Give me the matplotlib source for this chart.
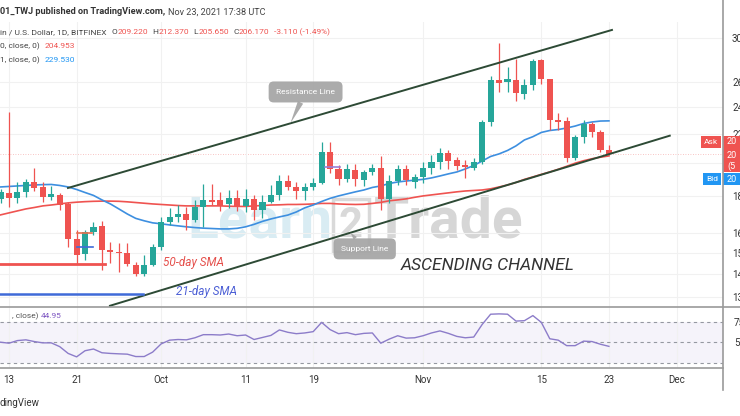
import numpy as np
import matplotlib.pyplot as plt
from matplotlib.lines import Line2D
from matplotlib.patches import Rectangle

plt.rcParams['font.family'] = ['Roboto', 'DejaVu Sans']

W, H = 740, 416

# ---- data ----
days = np.arange(-1, 72)          # 0 = Sep 13 2021, 71 = Nov 23 2021
opens = np.array([178.2, 182.0, 178.8, 182.3, 188.6, 185.2, 179.7, 180.7, 175.5, 156.6,
                  149.3, 160.5, 163.6, 151.3, 150.3, 150.0, 144.1, 140.0, 144.1, 152.6,
                  165.4, 168.1, 169.9, 166.7, 173.6, 177.8, 177.8, 175.3, 179.1, 174.4,
                  178.2, 172.1, 176.8, 180.7, 189.2, 185.6, 183.2, 185.2, 188.0, 207.4,
                  196.3, 190.1, 195.9, 189.7, 194.8, 197.0, 178.2, 189.2, 196.3, 188.6,
                  191.7, 197.3, 200.8, 206.8, 202.3, 199.1, 197.3, 201.2, 228.5, 261.9,
                  260.5, 261.9, 250.4, 257.8, 279.4, 262.5, 230.2, 229.7, 203.4, 217.7,
                  227.0, 221.2, 209.22])
highs = np.array([184.0, 236.4, 188.6, 190.3, 197.0, 188.6, 186.0, 181.9, 176.5, 161.4,
                  161.4, 165.6, 166.3, 155.4, 154.7, 154.7, 145.5, 148.9, 154.2, 168.5,
                  173.2, 174.9, 174.0, 177.8, 187.2, 187.2, 182.6, 183.6, 183.6, 184.0,
                  180.4, 180.7, 186.6, 192.5, 192.5, 188.3, 187.7, 191.1, 214.6, 214.6,
                  199.0, 199.5, 199.5, 196.0, 199.5, 204.9, 192.5, 199.1, 199.1, 193.5,
                  200.8, 205.6, 210.5, 208.9, 204.2, 202.3, 203.4, 230.2, 265.3, 295.5,
                  273.4, 280.1, 263.0, 280.0, 280.1, 263.0, 235.5, 232.4, 219.3, 230.2,
                  228.7, 222.9, 212.37])
lows = np.array([176.0, 174.0, 176.1, 179.7, 183.2, 176.8, 177.8, 172.1, 152.9, 144.6,
                 146.5, 159.0, 141.8, 145.2, 140.9, 143.6, 139.1, 139.1, 143.6, 151.3,
                 164.0, 165.6, 161.4, 165.6, 163.1, 175.0, 171.5, 173.0, 171.3, 170.9,
                 166.7, 167.5, 176.1, 177.8, 183.6, 178.5, 177.8, 183.6, 187.2, 194.0,
                 186.6, 188.3, 186.0, 186.0, 192.5, 172.1, 176.1, 186.6, 186.6, 185.0,
                 188.0, 193.5, 196.3, 196.3, 195.9, 190.9, 195.9, 199.8, 226.0, 252.2,
                 252.2, 245.0, 246.0, 254.0, 258.5, 222.9, 222.9, 201.2, 202.3, 214.0,
                 218.1, 207.7, 205.65])
closes = np.array([182.6, 178.8, 182.3, 188.6, 184.6, 179.3, 181.3, 174.9, 156.6, 148.9,
                   160.5, 163.1, 151.3, 150.2, 149.8, 144.6, 140.0, 144.1, 152.6, 165.8,
                   168.5, 169.9, 166.7, 174.0, 177.8, 176.8, 174.5, 179.1, 174.4, 178.5,
                   172.1, 176.8, 180.7, 189.2, 185.2, 183.2, 185.2, 188.0, 207.4, 196.3,
                   190.1, 196.3, 190.1, 194.8, 197.0, 178.2, 189.2, 196.3, 189.7, 191.7,
                   197.3, 200.8, 206.8, 201.8, 198.4, 197.6, 201.2, 228.5, 261.9, 259.7,
                   262.5, 250.9, 257.8, 278.8, 262.5, 230.2, 228.9, 203.4, 218.1, 227.0,
                   221.7, 208.9, 206.17])
sma21 = np.array([185.4, 185.7, 186.0, 186.3, 186.6, 186.8, 186.9, 186.3, 185.4, 183.9,
                  182.1, 180.4, 177.8, 175.5, 172.7, 169.9, 167.5, 166.2, 165.1, 164.6,
                  164.0, 163.5, 163.0, 162.6, 162.3, 162.1, 161.9, 161.9, 162.2, 163.0,
                  164.3, 165.9, 167.2, 168.3, 169.3, 171.0, 173.3, 174.9, 176.9, 178.7,
                  180.1, 181.3, 182.5, 183.6, 185.1, 186.0, 187.5, 188.4, 189.0, 189.5,
                  190.0, 190.9, 192.1, 193.4, 194.6, 196.5, 198.7, 201.6, 204.6, 206.3,
                  208.6, 211.7, 215.8, 218.1, 221.1, 222.5, 223.2, 224.3, 225.7, 227.6,
                  228.7, 229.4, 229.53])
sma50 = np.array([169.4, 170.5, 171.6, 172.7, 173.5, 174.4, 174.9, 175.5, 176.1, 176.5,
                  176.8, 177.0, 177.1, 177.1, 177.0, 176.7, 176.3, 175.9, 175.5, 175.2,
                  174.9, 174.6, 174.4, 174.4, 174.4, 174.4, 174.4, 174.2, 174.1, 174.1,
                  174.4, 174.6, 174.9, 175.0, 175.2, 175.2, 175.3, 175.5, 175.8, 175.8,
                  175.5, 175.3, 175.2, 175.3, 175.8, 176.4, 177.3, 177.8, 178.4, 179.3,
                  180.1, 180.7, 181.3, 181.9, 182.5, 183.0, 183.3, 183.6, 184.3, 185.4,
                  186.6, 188.1, 190.0, 191.5, 193.1, 194.6, 196.3, 198.2, 200.2, 201.8,
                  203.1, 204.1, 204.95])
rsi = np.array([50.0, 48.8, 52.0, 52.9, 50.8, 49.2, 49.2, 44.6, 36.3, 32.1,
                39.6, 41.7, 37.1, 36.3, 35.8, 35.4, 32.5, 32.5, 37.9, 47.9,
                52.5, 53.3, 52.9, 55.4, 59.2, 59.2, 58.8, 60.0, 57.9, 58.8,
                53.3, 55.8, 58.3, 65.0, 62.1, 60.4, 61.3, 62.9, 74.2, 65.4,
                60.4, 61.7, 59.2, 60.8, 61.3, 48.8, 53.8, 57.9, 55.0, 55.4,
                57.9, 61.3, 63.8, 60.8, 57.1, 55.4, 56.3, 71.7, 84.2, 84.6,
                84.2, 75.8, 76.3, 82.5, 74.2, 54.2, 52.5, 45.8, 45.8, 51.3,
                50.8, 47.5, 44.95])

tick_days = [0, 8, 18, 28, 36, 49, 63, 71, 79]
tick_labels = ['13', '21', 'Oct', '11', '19', 'Nov', '15', '23', 'Dec']
price_ticks = [130, 140, 150, 160, 180, 200, 220, 240, 260, 300]

# channel lines (start / end)
res_d, res_p = [6.98, 71.36], [184.8, 307.9]
sup_d, sup_p = [11.95, 78.2], [126.3, 218.8]

GREEN, RED = '#26a69a', '#ef5350'
BLUE = '#2196f3'
XLIM = (-1.065, 84.5)


def fp(x, y):
    return x / W, 1 - y / H


def on_line(d, line_d, line_p):
    return float(np.exp(np.interp(d, line_d, np.log(line_p))))


fig = plt.figure(figsize=(W / 100, H / 100), dpi=100)
ax = fig.add_axes([0, 1 - 307 / H, 723 / W, 285 / H])
rax = fig.add_axes([0, 1 - 368 / H, 723 / W, 61 / H])

# ---- main pane ----
ax.set_yscale('log')
ax.set_xlim(*XLIM)
ax.set_ylim(125.8, 315.9)
ax.set_xticks(tick_days)
ax.set_yticks(price_ticks, labels=[f'{v:.3f}' for v in price_ticks])
ax.minorticks_off()
ax.yaxis.tick_right()
ax.tick_params(axis='y', length=0, pad=6.5, labelsize=7, labelcolor='#333333')
ax.tick_params(axis='x', length=0, labelbottom=False)
ax.grid(True, color='#f1f1f1', lw=0.8)
for s in ax.spines.values():
    s.set_visible(False)

# watermark
ax.text(187 / 723, 0.245, 'Learn', transform=ax.transAxes, fontsize=41, fontweight='bold',
        color='#d9ecf3', va='baseline', zorder=0)
ax.text(351 / 723, 0.245, '2', transform=ax.transAxes, fontsize=30, fontweight='bold',
        color='#d9d9d9', va='baseline', ha='center', zorder=0,
        bbox=dict(boxstyle='square,pad=0.15', fc='none', ec='#d9d9d9', lw=2.5))
ax.text(374 / 723, 0.245, 'Trade', transform=ax.transAxes, fontsize=41, fontweight='bold',
        color='#d6d6d6', va='baseline', zorder=0)

# moving averages
ax.plot(days, sma50, color='#ef5350', lw=1.2, zorder=2)
ax.plot(days, sma21, color='#3d8fe0', lw=1.2, zorder=2)

# candles
up = closes >= opens
cols = np.where(up, GREEN, RED)
ax.vlines(days, lows, highs, colors=cols, lw=0.9, zorder=3)
ax.bar(days, np.maximum(np.abs(closes - opens), 0.4), bottom=np.minimum(opens, closes),
       width=0.72, color=cols, zorder=4)

# last price line
ax.axhline(closes[-1], color='#ef5350', lw=0.6, alpha=0.45, ls=(0, (1, 2)), zorder=1)

# channel
ax.plot(res_d, res_p, color='#2d4a35', lw=1.4, zorder=5)
ax.plot(sup_d, sup_p, color='#2d4a35', lw=1.4, zorder=5)

# hand drawn marks
ax.plot([XLIM[0], 11.4], [144.6, 144.6], color='#ef5350', lw=2, zorder=5)
ax.plot([XLIM[0], 15.9], [131.2, 131.2], color='#3f6ad8', lw=1.8, zorder=5)
ax.plot([8.0, 9.8], [160.0, 160.0], color='#e8704f', lw=1.2, zorder=5)
ax.plot([8.0, 10.0], [152.9, 152.9], color='#3f6ad8', lw=1.2, zorder=5)
ax.plot([37.4, 39.2], [198.0, 198.0], color='#9a7fd6', lw=1.2, zorder=5)

ax.text(18.2, 145.1, '50-day SMA', color='#e5504c', fontsize=8.5, style='italic',
        va='center', zorder=6)
ax.text(19.8, 132.1, '21-day SMA', color='#4c5fd5', fontsize=8.5, style='italic',
        va='center', zorder=6)
ax.text(46.3, 143.7, 'ASCENDING CHANNEL', color='#333333', fontsize=12.5, style='italic',
        va='center', zorder=6)

callout = dict(fc='#a4a4a4', ec='none', alpha=0.92)
ax.annotate('Resistance Line', xy=(33.3, on_line(33.3, res_d, res_p)), xytext=(35.1, 252.0),
            ha='center', va='center', fontsize=6, color='white', zorder=7,
            bbox=dict(boxstyle='round,pad=0.9,rounding_size=0.6', **callout),
            arrowprops=dict(arrowstyle='wedge,tail_width=0.7', shrinkA=0, shrinkB=0, **callout))
ax.annotate('Support Line', xy=(40.4, on_line(40.4, sup_d, sup_p)), xytext=(42.1, 151.8),
            ha='center', va='center', fontsize=6, color='white', zorder=7,
            bbox=dict(boxstyle='round,pad=0.9,rounding_size=0.6', **callout),
            arrowprops=dict(arrowstyle='wedge,tail_width=0.5', shrinkA=0, shrinkB=0, **callout))

# ---- RSI pane ----
rax.set_xlim(*XLIM)
rax.set_ylim(18.5, 93)
rax.axhspan(25, 75, color='#7e57c2', alpha=0.07, lw=0)
for lvl in (75, 50, 25):
    rax.axhline(lvl, color='#9598a1', lw=0.8, ls=(0, (3, 3)))
rax.plot(days, rsi, color='#8c7cc9', lw=1.0)
rax.set_xticks(tick_days, labels=tick_labels)
rax.set_yticks([50, 75])
rax.yaxis.tick_right()
rax.tick_params(axis='y', length=0, pad=8, labelsize=7, labelcolor='#333333')
rax.tick_params(axis='x', length=0, pad=5, labelsize=7, labelcolor='#333333')
rax.grid(True, axis='x', color='#f1f1f1', lw=0.8)
for s in rax.spines.values():
    s.set_visible(False)
rax.text(*fp(38, 316), ', close)', transform=fig.transFigure, ha='right', va='center',
         fontsize=6, color='#555555')
rax.text(*fp(41, 316), '44.95', transform=fig.transFigure, ha='left', va='center',
         fontsize=6, color='#7e57c2')

# ---- frame lines ----
for (x0, y0), (x1, y1) in [((0, 307), (740, 307)), ((0, 368), (723, 368)), ((723, 0), (723, 390))]:
    a, b = fp(x0, y0), fp(x1, y1)
    fig.add_artist(Line2D([a[0], b[0]], [a[1], b[1]], color='#9a9a9a', lw=1.2))

# ---- price labels on the axis ----
fig.text(*fp(711, 142), 'Ask', color='white', fontsize=6, ha='center', va='center',
         bbox=dict(boxstyle='square,pad=0.35', fc=RED, ec='none'))
fig.text(*fp(712, 179), 'Bid', color='white', fontsize=6, ha='center', va='center',
         bbox=dict(boxstyle='square,pad=0.35', fc=BLUE, ec='none'))
fig.add_artist(Rectangle(fp(723, 172), 17 / W, 36 / H, transform=fig.transFigure, fc=RED, ec='none'))
fig.add_artist(Rectangle(fp(723, 185), 17 / W, 12 / H, transform=fig.transFigure, fc=BLUE, ec='none'))
for y, s in [(141, '20'), (155, '20'), (166, '(5'), (179, '20')]:
    fig.text(*fp(727, y), s, color='white', fontsize=6.5, va='center')

# ---- header ----
renderer = fig.canvas.get_renderer()


def row(y, parts, size):
    x = 0
    for s, c, gap, weight in parts:
        t = fig.text(*fp(x, y), s, color=c, fontsize=size, va='center', fontweight=weight)
        x += t.get_window_extent(renderer).width + gap


row(12, [('01_TWJ published on TradingView.com,', '#333333', 3, 'bold'),
         ('Nov 23, 2021 17:38 UTC', '#444444', 0, 'normal')], 6.6)
row(32, [('in / U.S. Dollar, 1D, BITFINEX', '#444444', 5, 'normal'),
         ('O', '#444444', 0.5, 'normal'), ('209.220', RED, 4, 'normal'),
         ('H', '#444444', 0.5, 'normal'), ('212.370', RED, 4, 'normal'),
         ('L', '#444444', 0.5, 'normal'), ('205.650', RED, 4, 'normal'),
         ('C', '#444444', 0.5, 'normal'), ('206.170', RED, 4, 'normal'),
         ('-3.110 (-1.49%)', RED, 0, 'normal')], 6.0)
row(46, [('0, close, 0)', '#444444', 5, 'normal'), ('204.953', RED, 0, 'normal')], 6.0)
row(60, [('1, close, 0)', '#444444', 5, 'normal'), ('229.530', BLUE, 0, 'normal')], 6.0)

fig.text(*fp(0, 403), 'dingView', color='#333333', fontsize=7, va='center')

fig.savefig('out.png', dpi=100)
